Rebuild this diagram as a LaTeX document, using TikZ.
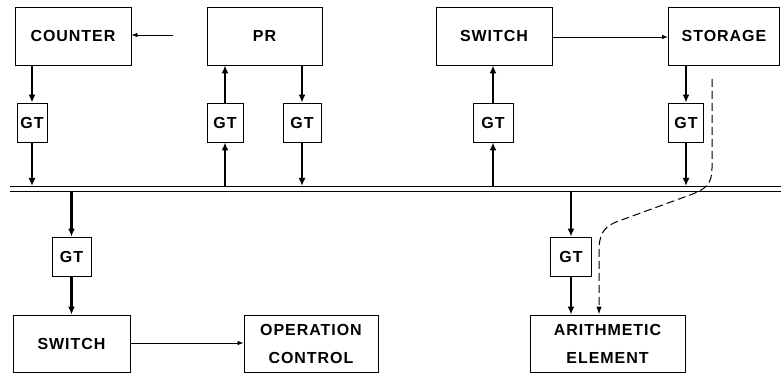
\documentclass[tikz,border=0pt]{standalone}
\usepackage{fontspec}
\setmainfont{Liberation Sans}[LetterSpace=6]
\usetikzlibrary{arrows.meta}
\begin{document}
\begin{tikzpicture}[x=1pt,y=-1pt,
  box/.style={draw,line width=0.9pt,minimum height=58pt,inner sep=0pt,font=\fontsize{16}{28}\selectfont\bfseries,align=center},
  gt/.style={draw,line width=0.9pt,minimum height=39pt,inner sep=0pt,font=\fontsize{16}{20}\selectfont\bfseries},
  heavy/.style={line width=2.4pt,-{Latex[length=8pt,width=7pt]}},
  light/.style={line width=0.8pt,-{Latex[length=6pt,width=4.5pt]}},
  busline/.style={line width=0.9pt}]
\useasboundingbox (0,0) rectangle (781,379);
% top boxes
\node[box,minimum width=116pt] (counter) at (73,36) {COUNTER};
\node[box,minimum width=115pt] (pr) at (264.5,36) {PR};
\node[box,minimum width=116pt] (switchA) at (494,36) {SWITCH};
\node[box,minimum width=111pt] (storage) at (724,36) {STORAGE};
% top gates
\node[gt,minimum width=30pt] (g1) at (32,122.5) {GT};
\node[gt,minimum width=36pt] (g2) at (225,122.5) {GT};
\node[gt,minimum width=38pt] (g3) at (302,122.5) {GT};
\node[gt,minimum width=40pt] (g4) at (493,122.5) {GT};
\node[gt,minimum width=35pt] (g5) at (686,122.5) {GT};
% bus
\coordinate (busL) at (10,188.5);
\coordinate (busR) at (781,188.5);
\coordinate (bustop) at (0,186);
\coordinate (busbot) at (0,191);
\draw[busline] (busL |- bustop) -- (busR |- bustop);
\draw[busline] (busL |- busbot) -- (busR |- busbot);
% lower gates
\node[gt,minimum width=39pt] (g6) at (71.5,256.5) {GT};
\node[gt,minimum width=41pt] (g7) at (571,256.5) {GT};
% lower boxes
\node[box,minimum width=117pt,minimum height=57pt] (switchB) at (71.5,343.5) {SWITCH};
\node[box,minimum width=134pt,minimum height=57pt] (opc) at (311,343.5) {OPERATION\\CONTROL};
\node[box,minimum width=155pt,minimum height=57pt] (arith) at (607.5,343.5) {ARITHMETIC\\ELEMENT};
% heavy connectors
\draw[heavy] (counter.south -| g1) -- (g1.north);
\draw[heavy] (g1.south) -- (g1.south |- bustop);
\draw[heavy] (g2.south |- bustop) -- (g2.south);
\draw[heavy] (g2.north) -- (g2.north |- pr.south);
\draw[heavy] (g3.north |- pr.south) -- (g3.north);
\draw[heavy] (g3.south) -- (g3.south |- bustop);
\draw[heavy] (g4.south |- bustop) -- (g4.south);
\draw[heavy] (g4.north) -- (g4.north |- switchA.south);
\draw[heavy] (g5.north |- storage.south) -- (g5.north);
\draw[heavy] (g5.south) -- (g5.south |- bustop);
\draw[heavy] (g6.north |- busbot) -- (g6.north);
\draw[heavy] (g6.south) -- (g6.south |- switchB.north);
\draw[heavy] (g7.north |- busbot) -- (g7.north);
\draw[heavy] (g7.south) -- (g7.south |- arith.north);
% light connectors
\coordinate (cin) at (173,35);
\draw[light] (cin) -- (cin -| counter.east);
\draw[light] (switchA.east |- 0,37) -- (storage.west |- 0,37);
\draw[light] (switchB.east |- 0,343) -- (opc.west |- 0,343);
% dashed path
\coordinate (dstart) at (712,79);
\coordinate (dend) at (599,0);
\draw[line width=1pt,dash pattern=on 8pt off 4pt,-{Latex[length=8pt,width=5.5pt]}]
  (dstart) -- (712,168) .. controls (712,184) and (706,189) .. (690,195)
  -- (616,222) .. controls (602,228) and (599,236) .. (599,252)
  -- (dend |- arith.north);
\end{tikzpicture}
\end{document}
